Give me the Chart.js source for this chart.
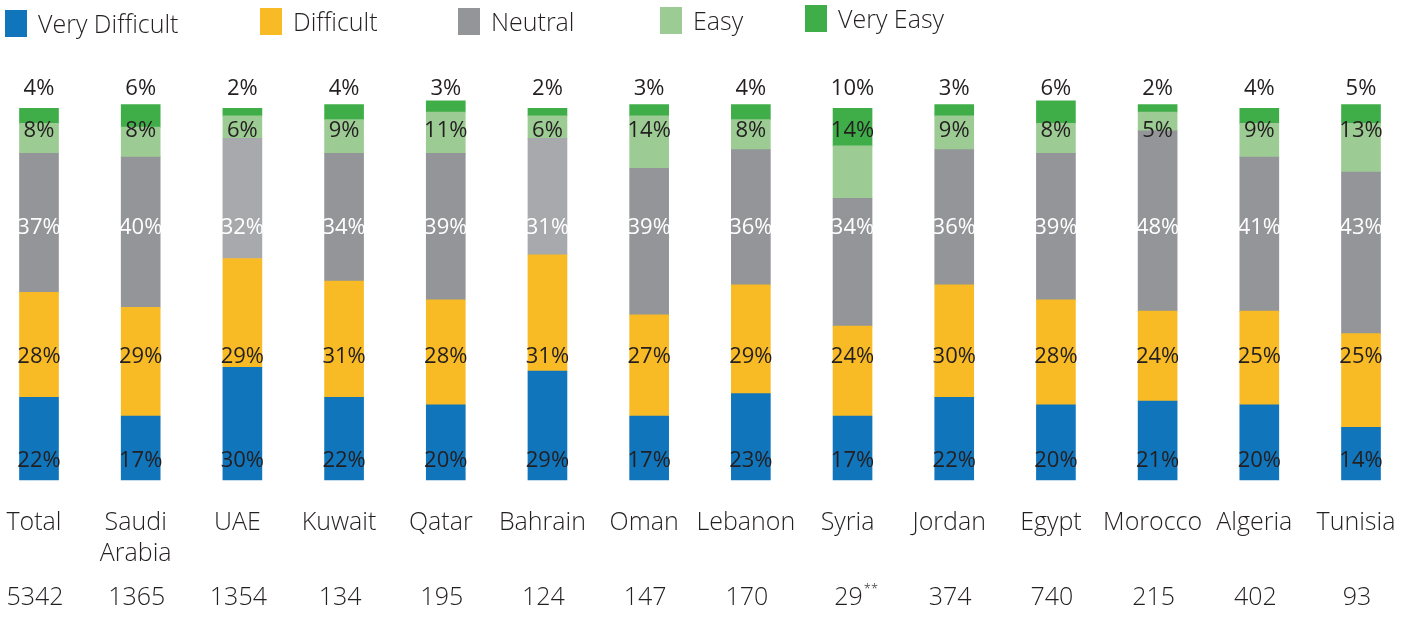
<!DOCTYPE html>
<html>
<head>
<meta charset="utf-8">
<script src="https://cdn.jsdelivr.net/npm/chart.js@4/dist/chart.umd.min.js"></script>
<style>
  html, body { margin: 0; padding: 0; background: #ffffff; }
  #wrap { width: 1402px; height: 617px; }
</style>
</head>
<body>
<div id="wrap"><canvas id="c" width="1402" height="617"></canvas></div>
<script>
// ---- data ----
const categories = ["Total", ["Saudi", "Arabia"], "UAE", "Kuwait", "Qatar", "Bahrain", "Oman", "Lebanon", "Syria", "Jordan", "Egypt", "Morocco", "Algeria", "Tunisia"];
const sampleSizes = ["5342", "1365", "1354", "134", "195", "124", "147", "170", "29", "374", "740", "215", "402", "93"];
const sampleNotes = ["", "", "", "", "", "", "", "", "**", "", "", "", "", ""];
const seriesNames = ["Very Difficult", "Difficult", "Neutral", "Easy", "Very Easy"];
const veryDifficult = [22, 17, 30, 22, 20, 29, 17, 23, 17, 22, 20, 21, 20, 14];
const difficult     = [28, 29, 29, 31, 28, 31, 27, 29, 24, 30, 28, 24, 25, 25];
const neutral       = [37, 40, 32, 34, 39, 31, 39, 36, 34, 36, 39, 48, 41, 43];
const easy          = [ 8,  8,  6,  9, 11,  6, 14,  8, 14,  9,  8,  5,  9, 13];
const veryEasy      = [ 4,  6,  2,  4,  3,  2,  3,  4, 10,  3,  6,  2,  4,  5];

const seriesValues = [veryDifficult, difficult, neutral, easy, veryEasy];
const seriesColors = ["#1175BC", "#F8BB26", "#939598", "#9CCC94", "#3FAE49"];
const lightGrayCats = [2, 5]; // UAE, Bahrain drawn in a lighter grey

const FONT = "'Open Sans', 'Noto Sans', sans-serif";
const LIGHT = "300 ";
const TEXT = "#231F20";

const datasets = seriesNames.map((name, d) => ({
  label: name,
  data: seriesValues[d],
  backgroundColor: (ctx) => (d === 2 && lightGrayCats.includes(ctx.dataIndex)) ? "#A7A9AC" : seriesColors[d],
  borderWidth: 0,
  barThickness: 39,
  clip: false
}));

// label rows (in y-scale units) for each series
const labelRows = [5.2, 32.7, 67.3, 92.9, 104.1];

const labelPlugin = {
  id: "segLabels",
  afterDatasetsDraw(chart) {
    const ctx = chart.ctx;
    const y = chart.scales.y;
    ctx.save();
    ctx.font = "400 22px " + FONT;
    ctx.textAlign = "center";
    ctx.textBaseline = "middle";
    chart.data.datasets.forEach((ds, d) => {
      const meta = chart.getDatasetMeta(d);
      meta.data.forEach((bar, i) => {
        ctx.fillStyle = d === 2 ? "#ffffff" : TEXT;
        ctx.fillText(ds.data[i] + "%", bar.x, y.getPixelForValue(labelRows[d]));
      });
    });
    ctx.restore();
  }
};

const axisTextPlugin = {
  id: "axisText",
  afterDraw(chart) {
    const ctx = chart.ctx;
    const x = chart.scales.x;
    ctx.save();
    ctx.fillStyle = TEXT;
    ctx.textBaseline = "middle";
    categories.forEach((cat, i) => {
      const px = x.getPixelForValue(i);
      const lines = Array.isArray(cat) ? cat : [cat];
      ctx.font = LIGHT + "25px " + FONT;
      ctx.textAlign = "center";
      lines.forEach((ln, k) => ctx.fillText(ln, px - 5, 523 + k * 31));
      ctx.fillText(sampleSizes[i], px - 4, 598);
      if (sampleNotes[i]) {
        const w = ctx.measureText(sampleSizes[i]).width;
        ctx.font = LIGHT + "13px " + FONT;
        ctx.textAlign = "left";
        ctx.fillText(sampleNotes[i], px - 4 + w / 2 + 1, 589);
      }
    });
    ctx.restore();
  }
};

const legendX = [5, 260, 458, 660, 805];
const legendY = [10, 8, 8, 7, 5];
const legendPlugin = {
  id: "customLegend",
  afterDraw(chart) {
    const ctx = chart.ctx;
    ctx.save();
    ctx.font = LIGHT + "25px " + FONT;
    ctx.textAlign = "left";
    ctx.textBaseline = "middle";
    chart.data.datasets.forEach((ds, d) => {
      ctx.fillStyle = seriesColors[d];
      ctx.fillRect(legendX[d], legendY[d], 22, 27);
      ctx.fillStyle = TEXT;
      ctx.fillText(ds.label, legendX[d] + 33, legendY[d] + 16);
    });
    ctx.restore();
  }
};

new Chart(document.getElementById("c"), {
  type: "bar",
  data: { labels: categories, datasets },
  options: {
    responsive: false,
    devicePixelRatio: 1,
    animation: false,
    layout: { padding: { left: 39, right: 41, top: 67, bottom: 137 } },
    plugins: { legend: { display: false }, tooltip: { enabled: false } },
    scales: {
      x: { type: "category", stacked: true, offset: false, display: false },
      y: { stacked: true, min: 0, max: 110, display: false }
    }
  },
  plugins: [labelPlugin, axisTextPlugin, legendPlugin]
});
</script>
</body>
</html>
